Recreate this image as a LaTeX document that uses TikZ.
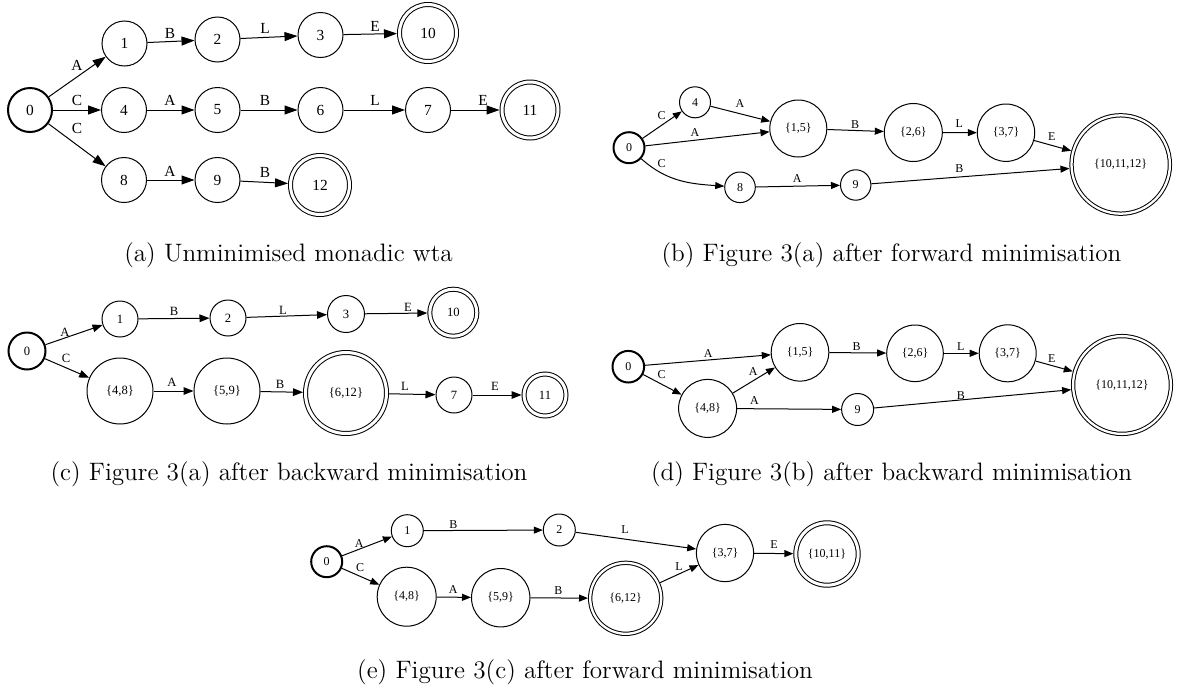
\documentclass[tikz,border=0pt]{standalone}
\usepackage{fontspec}
\newfontfamily\gvfont{Liberation Serif}
\usetikzlibrary{arrows.meta}
\tikzset{
  x=0.5pt, y=-0.5pt,
  st/.style={circle, draw, line width=0.5pt, inner sep=0pt, minimum size=#1},
  ini/.style={circle, draw, line width=1pt, inner sep=0pt, minimum size=#1},
  acc/.style={circle, draw, line width=0.5pt, inner sep=0pt, minimum size=#1, double, double distance=1.5pt, outer sep=1.25pt},
  accb/.style={circle, draw, line width=0.5pt, inner sep=0pt, minimum size=#1, double, double distance=1.15pt, outer sep=1.1pt},
  fa/.style={font=\gvfont\fontsize{7.7}{8}\selectfont},
  fc/.style={font=\gvfont\fontsize{6.3}{7}\selectfont},
  fs/.style={font=\gvfont\fontsize{6}{7}\selectfont},
  lbl/.style={inner sep=0pt},
  eda/.style={draw, line width=0.5pt, -{Triangle[length=6.5pt,width=4.5pt]}},
  edc/.style={draw, line width=0.5pt, -{Triangle[length=5pt,width=3.8pt]}},
  eds/.style={draw, line width=0.5pt, -{Triangle[length=4.5pt,width=3.5pt]}},
  captxt/.style={font=\fontsize{12.6}{14}\selectfont, anchor=base, inner sep=0pt}
}
\begin{document}
\begin{tikzpicture}
\useasboundingbox (0,0) rectangle (1177,691);
% ---------------- (a)
\begin{scope}[fa]
\node[ini=22pt] (a0) at (30,110) {0};
\node[st=22.5pt] (a1) at (124.5,43.5) {1};
\node[st=22.5pt] (a2) at (217.5,39.5) {2};
\node[st=22.5pt] (a3) at (320.5,35) {3};
\node[acc=28.5pt] (a10) at (428,33) {10};
\node[st=22.5pt] (a4) at (124,110) {4};
\node[st=22.5pt] (a5) at (217.5,110) {5};
\node[st=22.5pt] (a6) at (320.5,110) {6};
\node[st=22.5pt] (a7) at (428,110) {7};
\node[acc=28pt] (a11) at (530,110) {11};
\node[st=22.5pt] (a8) at (124,180) {8};
\node[st=22.5pt] (a9) at (217.5,180) {9};
\node[acc=29.5pt] (a12) at (320,185) {12};
\draw[eda] (a0) -- (a1);
\draw[eda] (a0) -- (a4);
\draw[eda] (a0) -- (a8);
\draw[eda] (a1) -- (a2);
\draw[eda] (a2) -- (a3);
\draw[eda] (a3) -- (a10);
\draw[eda] (a4) -- (a5);
\draw[eda] (a5) -- (a6);
\draw[eda] (a6) -- (a7);
\draw[eda] (a7) -- (a11);
\draw[eda] (a8) -- (a9);
\draw[eda] (a9) -- (a12);
\node[lbl] (la01) at (77,65) {A};
\node[lbl] (la04) at (77,100) {C};
\node[lbl] (la08) at (77,128) {C};
\node[lbl] (la12) at (170,33) {B};
\node[lbl] (la23) at (265,28) {L};
\node[lbl] (la310) at (375,26) {E};
\node[lbl] (la45) at (170,100) {A};
\node[lbl] (la56) at (265,100) {B};
\node[lbl] (la67) at (375,100) {L};
\node[lbl] (la711) at (483,100) {E};
\node[lbl] (la89) at (170,171) {A};
\node[lbl] (la912) at (265,172) {B};
\end{scope}
\node[captxt] (capa) at (288.5,261) {(a) Unminimised monadic wta};
% ---------------- (b)
\begin{scope}[fs]
\node[ini=15.5pt] (b0) at (629,147.7) {0};
\node[st=15.5pt] (b4) at (695,102.3) {4};
\node[st=28.5pt] (b15) at (798.3,128.5) {\{1,5\}};
\node[st=29pt] (b26) at (913.3,132.5) {\{2,6\}};
\node[st=28.7pt] (b37) at (1006,132.7) {\{3,7\}};
\node[accb=49.2pt] (bF) at (1120.7,164.5) {\{10,11,12\}};
\node[st=15.3pt] (b8) at (740,187.3) {8};
\node[st=15.2pt] (b9) at (855.7,185) {9};
\draw[eds] (b0) -- (b4);
\draw[eds] (b0) -- (b15);
\draw[eds] (b0) to[out=-42, in=176] (b8);
\draw[eds] (b4) -- (b15);
\draw[eds] (b15) -- (b26);
\draw[eds] (b26) -- (b37);
\draw[eds] (b37) -- (bF);
\draw[eds] (b8) -- (b9);
\draw[eds] (b9) -- (bF);
\node[lbl] (lb04) at (661.7,116) {C};
\node[lbl] (lb415) at (740,104) {A};
\node[lbl] (lb015) at (695,132.7) {A};
\node[lbl] (lb08) at (661.7,164) {C};
\node[lbl] (lb1526) at (855,124.3) {B};
\node[lbl] (lb2637) at (959.3,123.3) {L};
\node[lbl] (lb37F) at (1051.7,136.7) {E};
\node[lbl] (lb89) at (797.3,178.7) {A};
\node[lbl] (lb9F) at (959.3,168.3) {B};
\end{scope}
\node[captxt] (capb) at (891.5,261) {(b) Figure 3(a) after forward minimisation};
% ---------------- (c)
\begin{scope}[fc]
\node[ini=18.5pt] (c0) at (27,351) {0};
\node[st=18pt] (c1) at (120,319) {1};
\node[st=18pt] (c2) at (228,318) {2};
\node[st=18.5pt] (c3) at (346,314) {3};
\node[acc=23.5pt] (c10) at (453.3,312.7) {10};
\node[st=33pt] (c48) at (120,391) {\{4,8\}};
\node[st=33pt] (c59) at (227,391) {\{5,9\}};
\node[acc=40.5pt] (c612) at (346,393) {\{6,12\}};
\node[st=18pt] (c7) at (454,395) {7};
\node[acc=21pt] (c11) at (545,395) {11};
\draw[edc] (c0) -- (c1);
\draw[edc] (c0) -- (c48);
\draw[edc] (c1) -- (c2);
\draw[edc] (c2) -- (c3);
\draw[edc] (c3) -- (c10);
\draw[edc] (c48) -- (c59);
\draw[edc] (c59) -- (c612);
\draw[edc] (c612) -- (c7);
\draw[edc] (c7) -- (c11);
\node[lbl] (lc01) at (65,332) {A};
\node[lbl] (lc048) at (66,358) {C};
\node[lbl] (lc12) at (174,311) {B};
\node[lbl] (lc23) at (283,310) {L};
\node[lbl] (lc310) at (408,307) {E};
\node[lbl] (lc4859) at (172,382) {A};
\node[lbl] (lc59612) at (280,384) {B};
\node[lbl] (lc6127) at (405,386) {L};
\node[lbl] (lc711) at (495,386) {E};
\end{scope}
\node[captxt] (capc) at (289,480) {(c) Figure 3(a) after backward minimisation};
% ---------------- (d)
\begin{scope}[fs]
\node[ini=15.8pt] (d0) at (628.3,366.7) {0};
\node[st=28.8pt] (d15) at (800,352.3) {\{1,5\}};
\node[st=28.3pt] (d26) at (915,353.3) {\{2,6\}};
\node[st=28.5pt] (d37) at (1007.7,353.3) {\{3,7\}};
\node[accb=48.9pt] (dF) at (1122,385) {\{10,11,12\}};
\node[st=29pt] (d48) at (707.6,408.4) {\{4,8\}};
\node[st=16pt] (d9) at (857.6,409.5) {9};
\draw[eds] (d0) -- (d15);
\draw[eds] (d0) -- (d48);
\draw[eds] (d48) -- (d15);
\draw[eds] (d48) -- (d9);
\draw[eds] (d15) -- (d26);
\draw[eds] (d26) -- (d37);
\draw[eds] (d37) -- (dF);
\draw[eds] (d9) -- (dF);
\node[lbl] (ld015) at (708.3,353.3) {A};
\node[lbl] (ld048) at (661.7,375) {C};
\node[lbl] (ld4815) at (753.3,371.7) {A};
\node[lbl] (ld489) at (754.4,401) {A};
\node[lbl] (ld1526) at (856.7,346.7) {B};
\node[lbl] (ld2637) at (960.7,346.7) {L};
\node[lbl] (ld37F) at (1051.7,358.3) {E};
\node[lbl] (ld9F) at (960.9,395.5) {B};
\end{scope}
\node[captxt] (capd) at (891.5,480) {(d) Figure 3(b) after backward minimisation};
% ---------------- (e)
\begin{scope}[fs]
\node[ini=15.5pt] (e0) at (326.7,561.7) {0};
\node[st=16pt] (e1) at (407.3,530.7) {1};
\node[st=16pt] (e2) at (559.3,530) {2};
\node[st=28.6pt] (e37) at (725,553) {\{3,7\}};
\node[acc=31.2pt] (eF) at (827,554) {\{10,11\}};
\node[st=29.5pt] (e48) at (406.7,596.7) {\{4,8\}};
\node[st=29.2pt] (e59) at (500.7,597.7) {\{5,9\}};
\node[accb=35.5pt] (e612) at (625.7,598.3) {\{6,12\}};
\draw[eds] (e0) -- (e1);
\draw[eds] (e0) -- (e48);
\draw[eds] (e1) -- (e2);
\draw[eds] (e2) -- (e37);
\draw[eds] (e48) -- (e59);
\draw[eds] (e59) -- (e612);
\draw[eds] (e612) -- (e37);
\draw[eds] (e37) -- (eF);
\node[lbl] (le01) at (359.3,544) {A};
\node[lbl] (le048) at (360,567.3) {C};
\node[lbl] (le12) at (453.3,525) {B};
\node[lbl] (le237) at (625,529.3) {L};
\node[lbl] (le37F) at (774,545) {E};
\node[lbl] (le4859) at (453.3,590) {A};
\node[lbl] (le59612) at (558.3,591) {B};
\node[lbl] (le61237) at (679,566.7) {L};
\end{scope}
\node[captxt] (cape) at (585,678) {(e) Figure 3(c) after forward minimisation};
\end{tikzpicture}
\end{document}
